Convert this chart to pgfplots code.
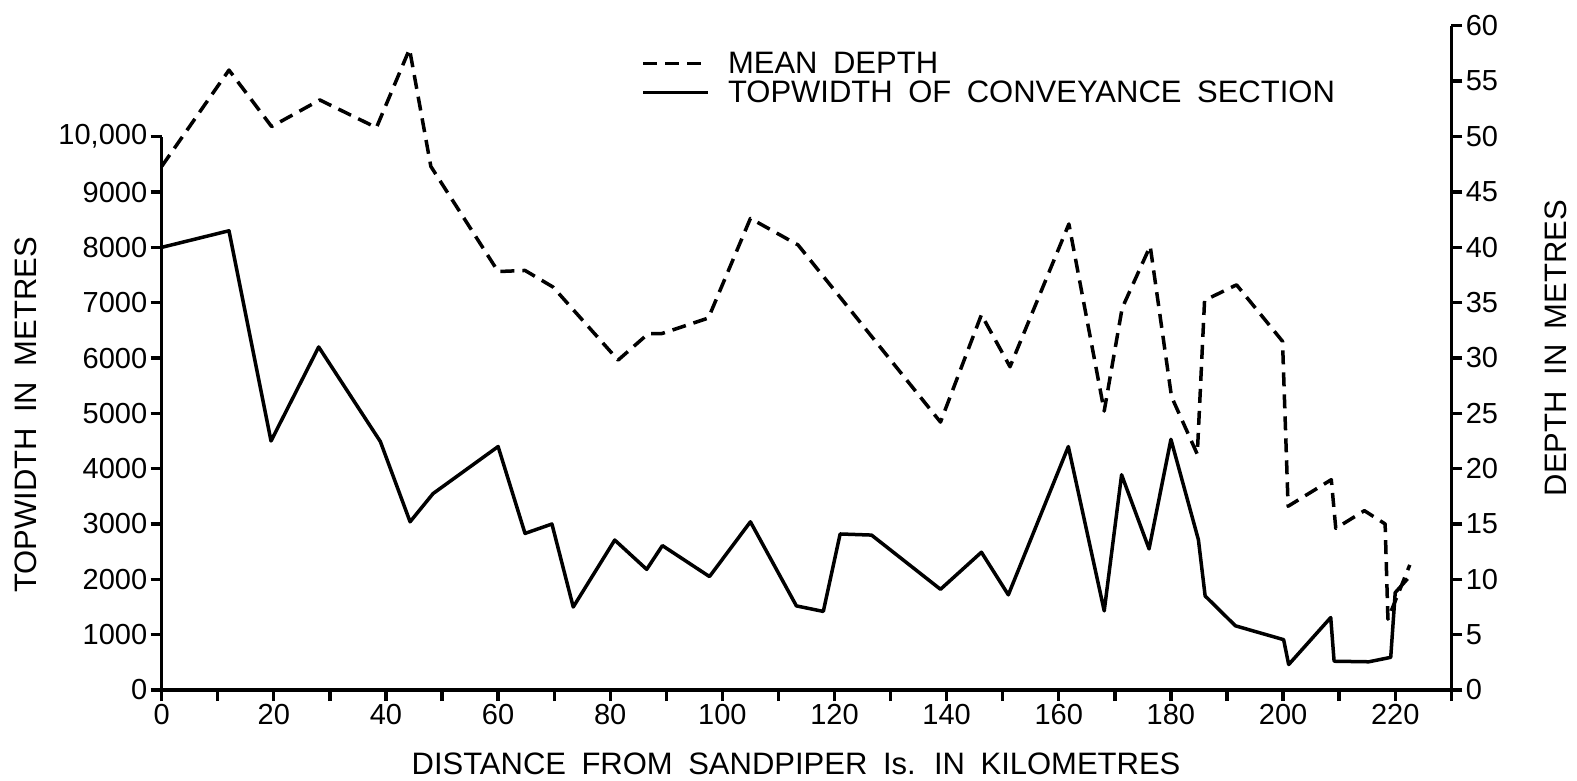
\documentclass[border=0pt]{standalone}
\usepackage{pgfplots}
\usepackage{pgfplotstable}
\pgfplotsset{compat=1.18}
\usepackage{fontspec}
\setmainfont[WordSpace=1.8]{Liberation Sans}

\pgfplotstableread{
km tw
0 8000
12 8300
19.5 4500
28 6200
39 4490
44.3 3040
48.4 3550
60 4400
64.8 2830
69.6 3000
73.4 1500
80.8 2710
86.5 2180
89.3 2610
97.7 2050
105 3040
113.2 1520
118 1420
121 2820
126.6 2800
138.9 1820
146.2 2490
151 1720
161.7 4400
168.1 1430
171.2 3890
176.1 2550
180 4530
184.9 2715
186.1 1700
191.5 1160
200.1 910
201 460
208.5 1310
209.1 520
215.3 510
219.2 590
220 1760
222.2 2010
}\topwidth

\pgfplotstableread{
km d
0 47.3
12 56
19.6 50.9
28.2 53.3
38.3 50.8
44.2 57.9
48 47.3
60 37.8
64.8 37.9
69.8 36.4
81.4 29.8
86.8 32.2
89.2 32.2
97.5 33.6
105 42.6
113.5 40.2
138.9 24.2
146.2 33.9
151.3 29.2
161.8 42.1
168.1 25.2
171.3 34.5
176.3 40.1
180.1 26.5
184.7 21.3
186 35.2
191.7 36.6
199.9 31.5
200.9 16.6
208.6 19.0
209.4 14.6
214.5 16.2
218.2 15.0
218.7 6.4
222.6 11.3
}\depth

\pgfplotsset{
  common/.style={
    at={(0pt,0pt)}, anchor=origin, scale only axis,
    width=1289.6pt, xmin=0, xmax=230, ymin=0,
    scaled x ticks=false, scaled y ticks=false,
    axis line style={-, line width=3.3pt, black},
    tick style={line width=3.3pt, black},
    major tick length=11pt, minor tick length=11pt,
    tick align=outside,
    tick label style={font=\fontsize{29}{34}\selectfont},
    label style={font=\fontsize{31}{36}\selectfont},
    clip=false,
  }
}

\begin{document}
\begin{tikzpicture}[x=1pt,y=1pt]
\path[use as bounding box] (-161.7,-90) rectangle (1415.3,690);

\begin{axis}[common,
  height=553.3pt, ymax=10000,
  axis y line*=left, hide x axis,
  ytick={0,1000,...,10000},
  yticklabels={0,1000,2000,3000,4000,5000,6000,7000,8000,9000,{10,000}},
  ylabel={TOPWIDTH IN METRES},
  ylabel style={at={(axis description cs:-0.1052,0.497)}, anchor=center, rotate=0},
]
\addplot[black, line width=3.5pt, line join=round] table[x=km, y=tw] {\topwidth};
\end{axis}

\begin{axis}[common,
  height=664.2pt, ymax=60,
  axis y line*=right, axis x line*=bottom,
  xtick={0,20,...,220},
  xticklabels={0,20,40,60,80,100,120,140,160,180,200,220},
  minor xtick={10,30,...,230},
  ytick={0,5,...,60},
  yticklabels={0,5,10,15,20,25,30,35,40,45,50,55,60},
  xlabel={DISTANCE FROM SANDPIPER Is. IN KILOMETRES},
  xlabel style={at={(axis description cs:0.4919,-0.1115)}, anchor=center},
  ylabel={DEPTH IN METRES},
  ylabel style={at={(axis description cs:1.0812,0.515)}, anchor=center, rotate=0},
  legend image code/.code={\draw[#1] (0pt,0pt) -- (65pt,0pt);},
  legend cell align=left,
  legend style={draw=none, fill=none, at={(axis description cs:0.3696,0.964)}, anchor=north west,
    font=\fontsize{31}{36}\selectfont, row sep=6pt, column sep=18pt,
    nodes={inner sep=0pt}},
]
\addplot[black, line width=3.5pt, dash pattern=on 14pt off 8pt, line join=round] table[x=km, y=d] {\depth};
\addlegendentry{MEAN DEPTH}
\addlegendimage{black, line width=3.5pt}
\addlegendentry{TOPWIDTH OF CONVEYANCE SECTION}
\end{axis}
\end{tikzpicture}
\end{document}
